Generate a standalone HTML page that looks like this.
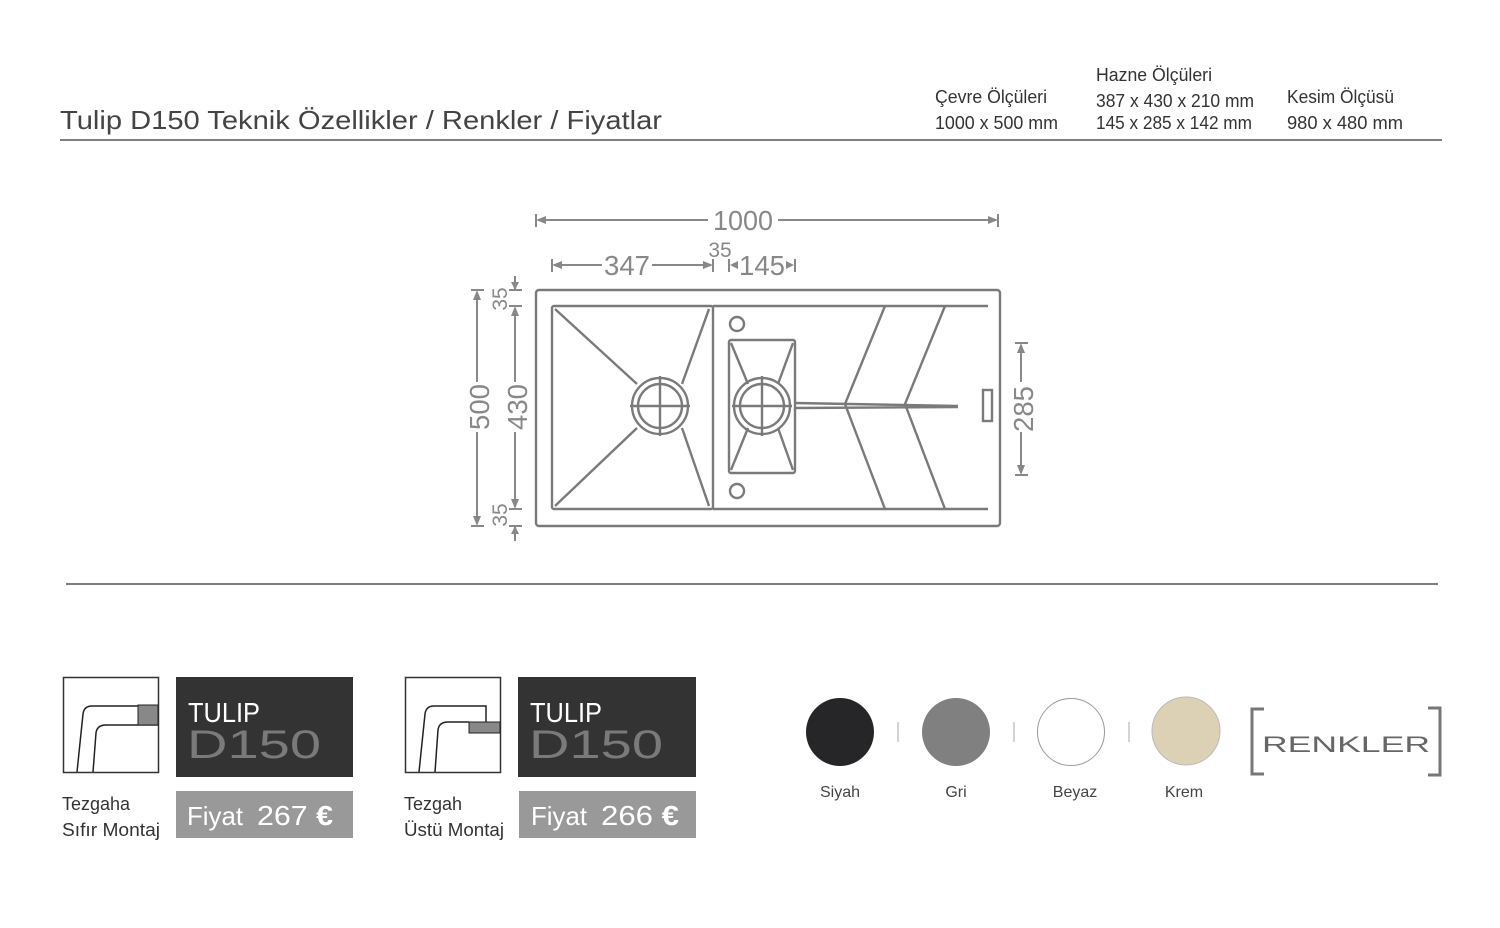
<!DOCTYPE html>
<html><head><meta charset="utf-8"><style>
html,body{margin:0;padding:0;background:#fff;}
svg{display:block;}
text{font-family:"Liberation Sans",sans-serif;}
</style></head><body>
<svg width="1500" height="928" viewBox="0 0 1500 928" xmlns="http://www.w3.org/2000/svg">
<text x="60" y="129" font-size="26" fill="#444" textLength="602" lengthAdjust="spacingAndGlyphs">Tulip D150 Teknik Özellikler / Renkler / Fiyatlar</text>
<g font-size="18" fill="#333">
<text x="935" y="103" textLength="112" lengthAdjust="spacingAndGlyphs">Çevre Ölçüleri</text>
<text x="935" y="129" textLength="123" lengthAdjust="spacingAndGlyphs">1000 x 500 mm</text>
<text x="1096" y="81" textLength="116" lengthAdjust="spacingAndGlyphs">Hazne Ölçüleri</text>
<text x="1096" y="107" textLength="158" lengthAdjust="spacingAndGlyphs">387 x 430 x 210 mm</text>
<text x="1096" y="129" textLength="156" lengthAdjust="spacingAndGlyphs">145 x 285 x 142 mm</text>
<text x="1287" y="103" textLength="107" lengthAdjust="spacingAndGlyphs">Kesim Ölçüsü</text>
<text x="1287" y="129" textLength="116" lengthAdjust="spacingAndGlyphs">980 x 480 mm</text>
</g>
<line x1="60" y1="140" x2="1442" y2="140" stroke="#555" stroke-width="1.5"/>

<g stroke="#7a7a7a" fill="none" stroke-width="2.4">
<rect x="536" y="290" width="464" height="236" rx="3"/>
<rect x="552" y="306" width="161" height="203" rx="2"/>
<line x1="713" y1="306" x2="988" y2="306"/>
<line x1="713" y1="509" x2="988" y2="509"/>
<line x1="555" y1="309" x2="637" y2="384"/>
<line x1="555" y1="506" x2="637" y2="428"/>
<line x1="709" y1="309" x2="682" y2="384"/>
<line x1="709" y1="506" x2="682" y2="428"/>
<circle cx="660" cy="406" r="28"/>
<circle cx="660" cy="406" r="22"/>
<line x1="630" y1="406" x2="690" y2="406"/><line x1="660" y1="376" x2="660" y2="436"/>
<rect x="729" y="340" width="66" height="133" rx="2"/>
<line x1="731" y1="343" x2="748" y2="384"/><line x1="793" y1="343" x2="778" y2="384"/>
<line x1="731" y1="470" x2="748" y2="428"/><line x1="793" y1="470" x2="778" y2="428"/>
<circle cx="762" cy="406" r="28"/>
<circle cx="762" cy="406" r="22"/>
<line x1="732" y1="406" x2="792" y2="406"/><line x1="762" y1="376" x2="762" y2="436"/>
<circle cx="737" cy="324" r="7"/>
<circle cx="737" cy="491" r="7"/>
<polyline points="885,306 845,404 885,509"/>
<polyline points="945,306 905,404 945,509"/>
<line x1="795" y1="403" x2="958" y2="406"/>
<line x1="795" y1="408" x2="958" y2="407"/>
<rect x="983" y="390" width="9" height="31"/>
</g>
<g stroke="#888" stroke-width="2" fill="#888">
<line x1="536" y1="214" x2="536" y2="227"/><line x1="998" y1="214" x2="998" y2="227"/>
<line x1="538" y1="220" x2="708" y2="220"/><line x1="778" y1="220" x2="996" y2="220"/>
<polygon points="536,220 546,216 546,224" stroke="none"/><polygon points="998,220 988,216 988,224" stroke="none"/>
<line x1="552" y1="259" x2="552" y2="272"/><line x1="713" y1="259" x2="713" y2="272"/>
<line x1="554" y1="265" x2="602" y2="265"/><line x1="652" y1="265" x2="711" y2="265"/>
<polygon points="552,265 562,261 562,269" stroke="none"/><polygon points="713,265 703,261 703,269" stroke="none"/>
<line x1="729" y1="259" x2="729" y2="272"/><line x1="795" y1="259" x2="795" y2="272"/>
<polygon points="730,265 738,261 738,269" stroke="none"/><polygon points="794,265 786,261 786,269" stroke="none"/>
<line x1="471" y1="290" x2="484" y2="290"/><line x1="471" y1="526" x2="484" y2="526"/>
<line x1="477" y1="292" x2="477" y2="382"/><line x1="477" y1="432" x2="477" y2="524"/>
<polygon points="477,290 473,300 481,300" stroke="none"/><polygon points="477,526 473,516 481,516" stroke="none"/>
<line x1="509" y1="306" x2="522" y2="306"/><line x1="509" y1="509" x2="522" y2="509"/>
<line x1="515" y1="308" x2="515" y2="382"/><line x1="515" y1="432" x2="515" y2="507"/>
<polygon points="515,306 511,316 519,316" stroke="none"/><polygon points="515,509 511,499 519,499" stroke="none"/>
<line x1="509" y1="290" x2="522" y2="290"/><line x1="509" y1="526" x2="522" y2="526"/>
<line x1="515" y1="276" x2="515" y2="289"/><polygon points="515,290 511,282 519,282" stroke="none"/>
<line x1="515" y1="527" x2="515" y2="541"/><polygon points="515,526 511,534 519,534" stroke="none"/>
<line x1="1015" y1="343" x2="1028" y2="343"/><line x1="1015" y1="475" x2="1028" y2="475"/>
<line x1="1021" y1="345" x2="1021" y2="382"/><line x1="1021" y1="432" x2="1021" y2="473"/>
<polygon points="1021,343 1017,353 1025,353" stroke="none"/><polygon points="1021,475 1017,465 1025,465" stroke="none"/>
</g>
<g fill="#888" font-size="28">
<text x="743" y="230" text-anchor="middle" textLength="60" lengthAdjust="spacingAndGlyphs">1000</text>
<text x="627" y="275" text-anchor="middle" textLength="46" lengthAdjust="spacingAndGlyphs">347</text>
<text x="762" y="275" text-anchor="middle" textLength="46" lengthAdjust="spacingAndGlyphs">145</text>
<text x="720" y="257" text-anchor="middle" font-size="21">35</text>
<text transform="translate(489,407) rotate(-90)" text-anchor="middle" textLength="46" lengthAdjust="spacingAndGlyphs">500</text>
<text transform="translate(527,407) rotate(-90)" text-anchor="middle" textLength="46" lengthAdjust="spacingAndGlyphs">430</text>
<text transform="translate(1033,409) rotate(-90)" text-anchor="middle" textLength="46" lengthAdjust="spacingAndGlyphs">285</text>
<text transform="translate(507,299) rotate(-90)" text-anchor="middle" font-size="21">35</text>
<text transform="translate(507,515) rotate(-90)" text-anchor="middle" font-size="21">35</text>
</g>
<line x1="66" y1="584" x2="1438" y2="584" stroke="#555" stroke-width="1.5"/>

<rect x="63.5" y="677.5" width="95" height="95" fill="#fff" stroke="#333" stroke-width="1.5"/>
<path d="M77 772 L83 714 Q84 706 92 706 L138 706" fill="none" stroke="#222" stroke-width="1.5"/>
<path d="M93 772 L96 733 Q97 725 106 725 L158 725" fill="none" stroke="#222" stroke-width="1.5"/>
<rect x="138" y="705" width="20" height="20" fill="#888" stroke="#222" stroke-width="1"/>
<rect x="176" y="677" width="177" height="100" fill="#333"/>
<text x="188" y="722" font-size="28" fill="#fff" textLength="72" lengthAdjust="spacingAndGlyphs">TULIP</text>
<text x="187" y="758" font-size="40" fill="#7a7a7a" textLength="134" lengthAdjust="spacingAndGlyphs">D150</text>
<rect x="176" y="791" width="177" height="47" fill="#999"/>
<text x="187" y="825" font-size="26" fill="#fff" textLength="56" lengthAdjust="spacingAndGlyphs">Fiyat</text>
<text x="257" y="825" font-size="28" fill="#fff" textLength="76" lengthAdjust="spacingAndGlyphs">267 <tspan font-weight="bold">€</tspan></text>
<text x="62" y="810" font-size="18" fill="#333">Tezgaha</text>
<text x="62" y="836" font-size="18" fill="#333" textLength="98" lengthAdjust="spacingAndGlyphs">Sıfır Montaj</text>

<rect x="405.5" y="677.5" width="95" height="95" fill="#fff" stroke="#333" stroke-width="1.5"/>
<path d="M419 772 L425 714 Q426 706 434 706 L486 706 L486 722" fill="none" stroke="#222" stroke-width="1.5"/>
<path d="M435 772 L438 730 Q439 722 448 722 L469 722" fill="none" stroke="#222" stroke-width="1.5"/>
<rect x="469" y="722" width="31" height="11" fill="#888" stroke="#222" stroke-width="1"/>
<rect x="518" y="677" width="178" height="100" fill="#333"/>
<text x="530" y="722" font-size="28" fill="#fff" textLength="72" lengthAdjust="spacingAndGlyphs">TULIP</text>
<text x="529" y="758" font-size="40" fill="#7a7a7a" textLength="134" lengthAdjust="spacingAndGlyphs">D150</text>
<rect x="519" y="791" width="177" height="47" fill="#999"/>
<text x="531" y="825" font-size="26" fill="#fff" textLength="56" lengthAdjust="spacingAndGlyphs">Fiyat</text>
<text x="601" y="825" font-size="28" fill="#fff" textLength="78" lengthAdjust="spacingAndGlyphs">266 <tspan font-weight="bold">€</tspan></text>
<text x="404" y="810" font-size="18" fill="#333">Tezgah</text>
<text x="404" y="836" font-size="18" fill="#333" textLength="100" lengthAdjust="spacingAndGlyphs">Üstü Montaj</text>

<circle cx="840" cy="732" r="34" fill="#262628"/>
<circle cx="956" cy="732" r="34" fill="#808080"/>
<circle cx="1071" cy="732" r="33.5" fill="#fff" stroke="#999" stroke-width="1"/>
<circle cx="1186" cy="731" r="34" fill="#dcd0b5" stroke="#bbb" stroke-width="1"/>
<g stroke="#aaa" stroke-width="1">
<line x1="898" y1="722" x2="898" y2="742"/><line x1="1014" y1="722" x2="1014" y2="742"/><line x1="1129" y1="722" x2="1129" y2="742"/>
</g>
<g font-size="16" fill="#444" text-anchor="middle">
<text x="840" y="797">Siyah</text><text x="956" y="797">Gri</text><text x="1075" y="797">Beyaz</text><text x="1184" y="797">Krem</text>
</g>
<path d="M1264 709 L1252 709 L1252 774 L1264 774" fill="none" stroke="#777" stroke-width="3"/>
<path d="M1428 708 L1440 708 L1440 775 L1428 775" fill="none" stroke="#777" stroke-width="3"/>
<text x="1262" y="752" font-size="22" fill="#666" textLength="168" lengthAdjust="spacingAndGlyphs">RENKLER</text>
</svg>
</body></html>
